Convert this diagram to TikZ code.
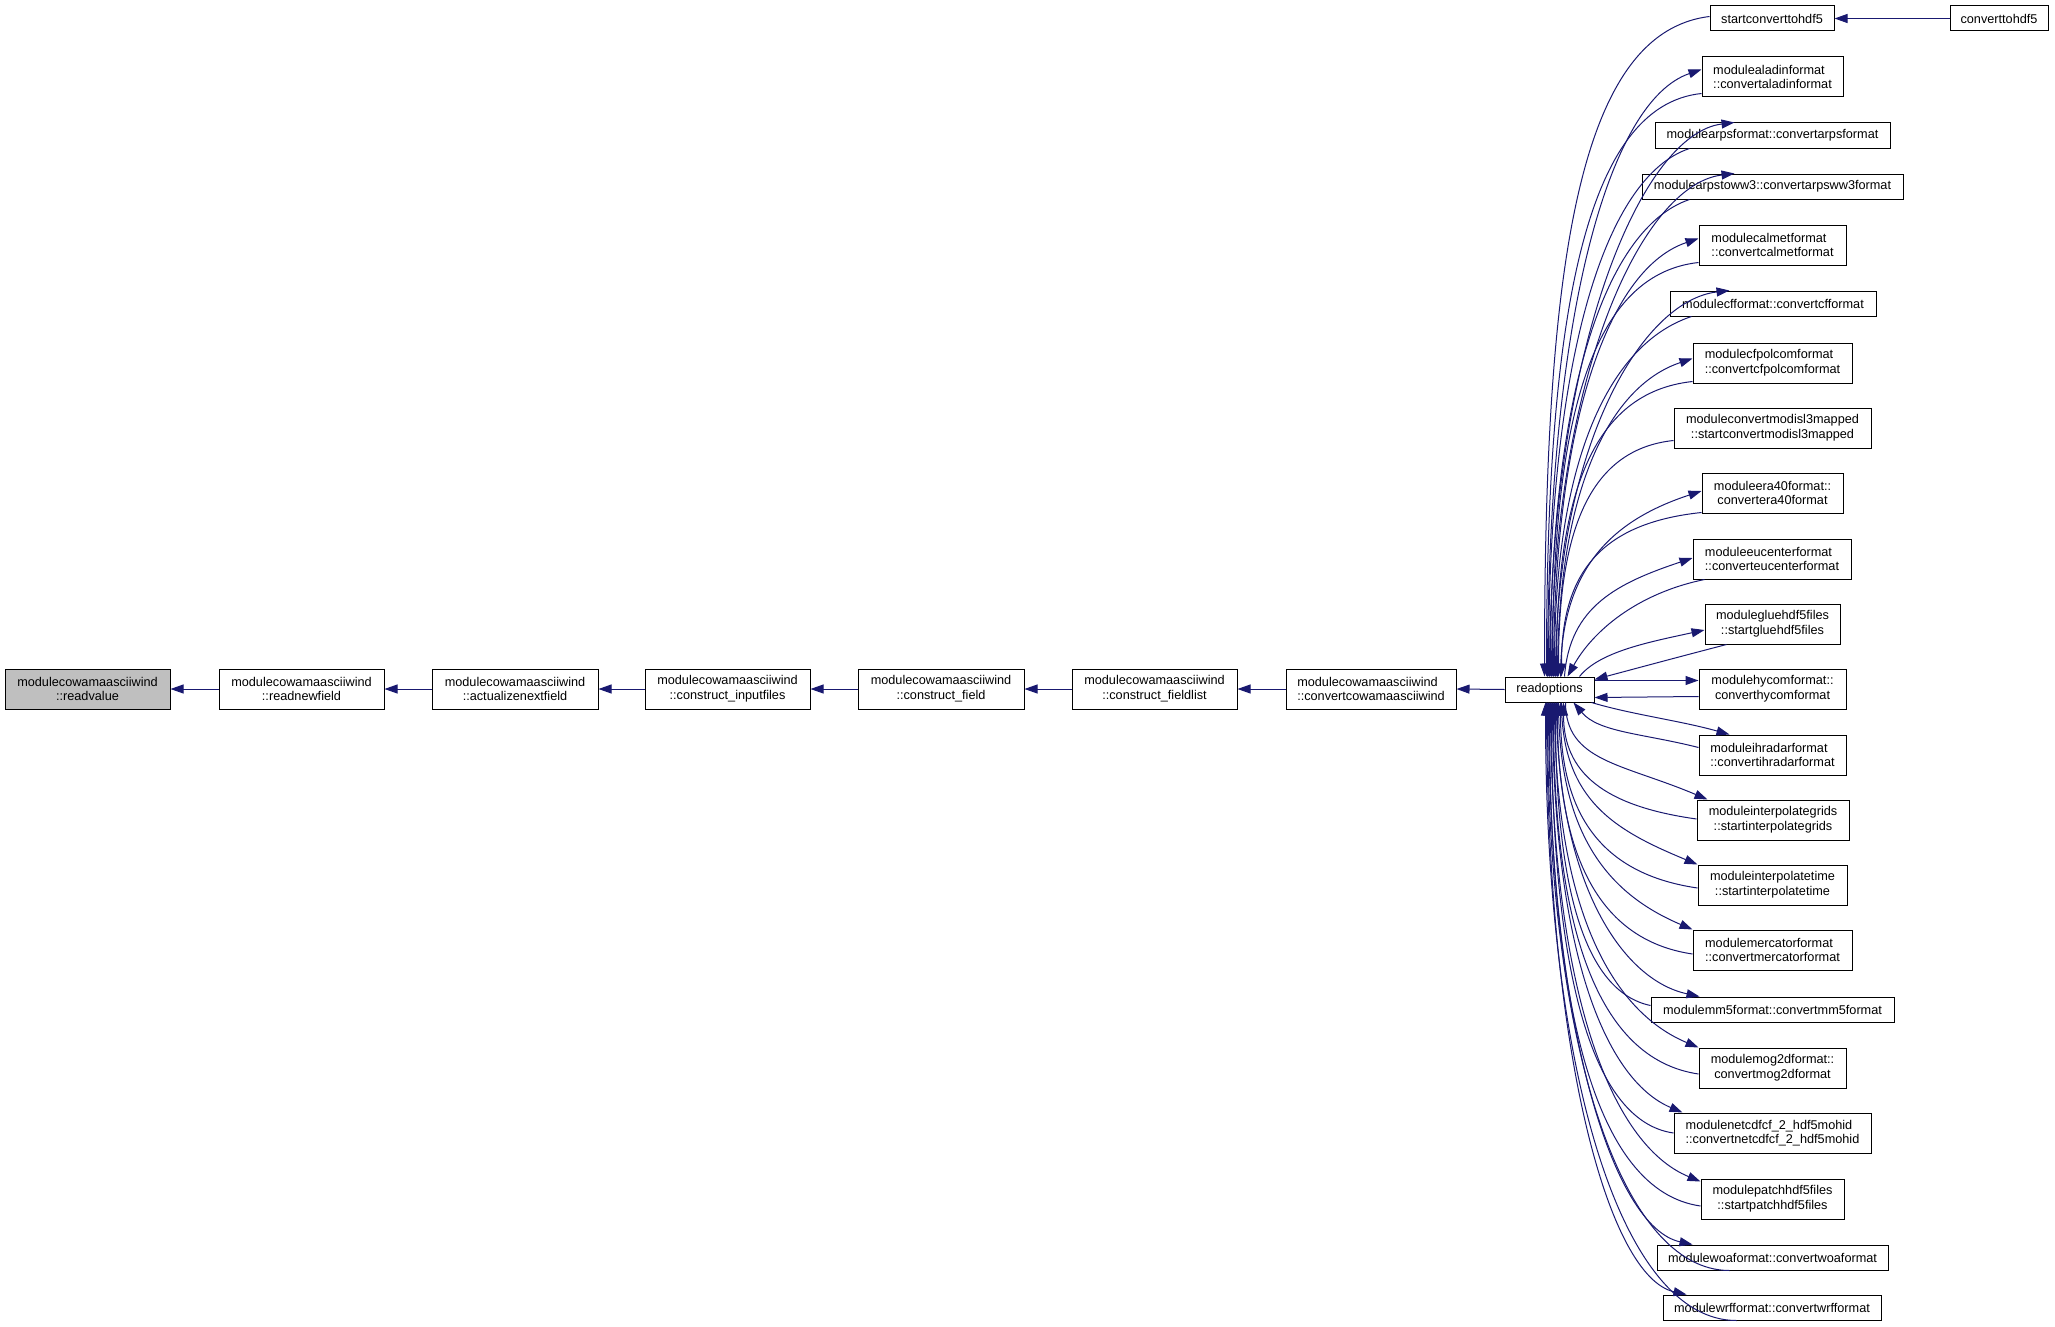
\documentclass[tikz,border=0pt]{standalone}
\usepackage{fontspec}
\setmainfont{Liberation Sans}
\usetikzlibrary{arrows.meta,calc}
\definecolor{edgeblue}{RGB}{25,25,112}
\definecolor{hlgrey}{RGB}{191,191,191}
\newcommand\ed[4]{\draw[edge] (#1) .. controls +(#2) and +(#3) .. (#4);}
\begin{document}
\begin{tikzpicture}[x=1pt,y=-1pt,
  edge/.style={draw=edgeblue,line width=1pt,-{Triangle[length=13pt,width=9pt]}},
  box/.style={draw=black,line width=1pt,fill=white,inner sep=0pt,align=center,
    font=\fontsize{12.7}{14.7}\selectfont},
  two/.style={box,minimum height=40},
  one/.style={box,minimum height=25}]
\useasboundingbox (0,0) rectangle (2055,1327);
% main chain
\node[two,minimum width=165,fill=hlgrey] (rv) at (87.5,689) {modulecowamaasciiwind\\::readvalue};
\node[two,minimum width=165] (rnf) at (301.5,689) {modulecowamaasciiwind\\::readnewfield};
\node[two,minimum width=166] (anf) at (515,689) {modulecowamaasciiwind\\::actualizenextfield};
\node[two,minimum width=165] (cif) at (727.5,689) {modulecowamaasciiwind\\::construct\_inputfiles};
\node[two,minimum width=166] (cfd) at (941,689) {modulecowamaasciiwind\\::construct\_field};
\node[two,minimum width=165] (cfl) at (1154.5,689) {modulecowamaasciiwind\\::construct\_fieldlist};
\node[two,minimum width=170,align=left] (ccw) at (1371,689) {modulecowamaasciiwind\\::convertcowamaasciiwind};
\node[one,minimum width=89] (ro) at (1549.5,689.5) {readoptions};
% right column
\node[one,minimum width=124] (sc) at (1772,18.5) {startconverttohdf5};
\node[one,minimum width=98] (cth) at (1999,18.5) {converttohdf5};
\node[two,minimum width=141,align=left] (ala) at (1772.5,77) {modulealadinformat\\::convertaladinformat};
\node[one,minimum width=235] (arps) at (1772.5,135.5) {modulearpsformat::convertarpsformat};
\node[one,minimum width=261] (ww3) at (1772.5,186.5) {modulearpstoww3::convertarpsww3format};
\node[two,minimum width=147,align=left] (cal) at (1772.5,245) {modulecalmetformat\\::convertcalmetformat};
\node[one,minimum width=206] (cff) at (1773,303.5) {modulecfformat::convertcfformat};
\node[two,minimum width=159,align=left] (cfp) at (1772.5,363) {modulecfpolcomformat\\::convertcfpolcomformat};
\node[two,minimum width=197] (mod) at (1772.5,428) {moduleconvertmodisl3mapped\\::startconvertmodisl3mapped};
\node[two,minimum width=141] (era) at (1772.5,493) {moduleera40format::\\convertera40format};
\node[two,minimum width=158,align=left] (euc) at (1772,559) {moduleeucenterformat\\::converteucenterformat};
\node[two,minimum width=135] (glu) at (1772.5,624) {modulegluehdf5files\\::startgluehdf5files};
\node[two,minimum width=147] (hyc) at (1772.5,689) {modulehycomformat::\\converthycomformat};
\node[two,minimum width=147,align=left] (ihr) at (1772.5,755) {moduleihradarformat\\::convertihradarformat};
\node[two,minimum width=152] (igr) at (1773,820) {moduleinterpolategrids\\::startinterpolategrids};
\node[two,minimum width=149] (itm) at (1772.5,885) {moduleinterpolatetime\\::startinterpolatetime};
\node[two,minimum width=159,align=left] (mer) at (1772.5,950) {modulemercatorformat\\::convertmercatorformat};
\node[one,minimum width=243] (mm5) at (1772.5,1009.5) {modulemm5format::convertmm5format};
\node[two,minimum width=147] (mog) at (1772.5,1068) {modulemog2dformat::\\convertmog2dformat};
\node[two,minimum width=197,align=left] (nc) at (1772.5,1133) {modulenetcdfcf\_2\_hdf5mohid\\::convertnetcdfcf\_2\_hdf5mohid};
\node[two,minimum width=143] (pat) at (1772.5,1199) {modulepatchhdf5files\\::startpatchhdf5files};
\node[one,minimum width=231] (woa) at (1772.5,1257.5) {modulewoaformat::convertwoaformat};
\node[one,minimum width=218] (wrf) at (1772,1307.5) {modulewrfformat::convertwrfformat};
% main chain edges
\draw[edge] (rnf) -- (rv);
\draw[edge] (anf) -- (rnf);
\draw[edge] (cif) -- (anf);
\draw[edge] (cfd) -- (cif);
\draw[edge] (cfl) -- (cfd);
\draw[edge] (ccw) -- (cfl);
\draw[edge] (ro.west) -- (ccw.east);
\draw[edge] (cth) -- (sc);
% upper fan
\ed{$(sc.west)+(0,-2)$}{-132,16}{0,-410}{$(ro.north west)+(40,0)$}
\ed{$(ala.south west)+(0,-4)$}{-116,12}{0,-362}{$(ro.north west)+(42,0)$}
\ed{$(ro.north west)+(43,0)$}{0,-364}{-92,31}{$(ala.north west)+(0,13)$}
\ed{$(arps.south west)+(35,0)$}{-85,28}{0,-317}{$(ro.north west)+(44,0)$}
\ed{$(ro.north west)+(45,0)$}{0,-332}{-92,11}{$(arps.north west)+(80,0)$}
\ed{$(ww3.south west)+(48,0)$}{-83,28}{0,-287}{$(ro.north west)+(46,0)$}
\ed{$(ro.north west)+(47,0)$}{0,-302}{-92,11}{$(ww3.north west)+(93,0)$}
\ed{$(cal.south west)+(0,-3)$}{-110,12}{0,-249}{$(ro.north west)+(48,0)$}
\ed{$(ro.north west)+(49,0)$}{0,-263}{-87,29}{$(cal.north west)+(0,14)$}
\ed{$(cff.south west)+(22,0)$}{-82,27}{0,-217}{$(ro.north west)+(50,0)$}
\ed{$(ro.north west)+(51,0)$}{0,-232}{-87,10}{$(cff.north west)+(60,0)$}
\ed{$(cfp.south west)+(0,-2)$}{-102,11}{0,-178}{$(ro.north west)+(52,0)$}
\ed{$(ro.north west)+(53,0)$}{0,-191}{-81,27}{$(cfp.north west)+(0,16)$}
\ed{$(mod.south west)+(0,-8)$}{-86,9}{0,-142}{$(ro.north west)+(54,0)$}
\ed{$(era.south west)+(0,-1)$}{-105,11}{0,-99}{$(ro.north west)+(57,0)$}
\ed{$(ro.north west)+(56,0)$}{0,-112}{-85,28}{$(era.west)+(0,-2)$}
\ed{$(euc.south west)+(12,0)$}{-68,14}{25,-45}{$(ro.north west)+(63,0)$}
\ed{$(ro.north west)+(60,0)$}{5,-70}{-75,25}{$(euc.west)+(0,-1)$}
\ed{$(glu.south west)+(22,0)$}{-50,13}{45,-12}{$(ro.north east)+(0,3)$}
\ed{$(ro.north east)+(-15,0)$}{20,-25}{-55,12}{$(glu.west)+(0,6)$}
% hycom
\draw[edge] ($(ro.north east)+(0,4)$) -- ($(hyc.north west)+(0,12)$);
\draw[edge] ($(hyc.north west)+(0,28)$) -- ($(ro.south east)+(0,-5)$);
% lower fan
\ed{$(ro.south east)+(-3,0)$}{40,12}{-50,-14}{$(ihr.north west)+(31,0)$}
\ed{$(ihr.north west)+(0,13)$}{-55,-14}{25,30}{$(ro.south west)+(69,0)$}
\ed{$(ro.south west)+(61,0)$}{0,59}{-85,-36}{$(igr.north west)+(11,0)$}
\ed{$(igr.west)+(0,-1)$}{-93,-13}{0,70}{$(ro.south west)+(59,0)$}
\ed{$(ro.south west)+(57,0)$}{0,98}{-82,-34}{itm.north west}
\ed{$(itm.west)+(0,3)$}{-96,-14}{0,112}{$(ro.south west)+(56,0)$}
\ed{$(ro.south west)+(54,0)$}{0,137}{-80,-34}{mer.north west}
\ed{$(mer.west)+(0,4)$}{-95,-14}{0,151}{$(ro.south west)+(53,0)$}
\ed{$(ro.south west)+(52,0)$}{0,177}{-79,-17}{$(mm5.north west)+(49,0)$}
\ed{$(mm5.west)+(0,-4)$}{-67,-14}{0,182}{$(ro.south west)+(51,0)$}
\ed{$(ro.south west)+(50,0)$}{0,208}{-86,-36}{mog.north west}
\ed{$(mog.west)+(0,6)$}{-102,-15}{0,223}{$(ro.south west)+(49,0)$}
\ed{$(ro.south west)+(48,0)$}{0,247}{-78,-33}{$(nc.north west)+(9,0)$}
\ed{nc.west}{-85,-12}{0,259}{$(ro.south west)+(47,0)$}
\ed{$(ro.south west)+(46,0)$}{0,288}{-90,-37}{$(pat.north west)+(0,3)$}
\ed{$(pat.west)+(0,7)$}{-106,-15}{0,302}{$(ro.south west)+(45,0)$}
\ed{$(ro.south west)+(44,0)$}{0,326}{-79,-17}{$(woa.north west)+(36,0)$}
\ed{$(woa.south west)+(73,0)$}{-109,0}{0,341}{$(ro.south west)+(43,0)$}
\ed{$(ro.south west)+(42,0)$}{0,356}{-77,-17}{$(wrf.north west)+(24,0)$}
\ed{$(wrf.south west)+(74,0)$}{-115,0}{0,371}{$(ro.south west)+(41,0)$}
\end{tikzpicture}
\end{document}
